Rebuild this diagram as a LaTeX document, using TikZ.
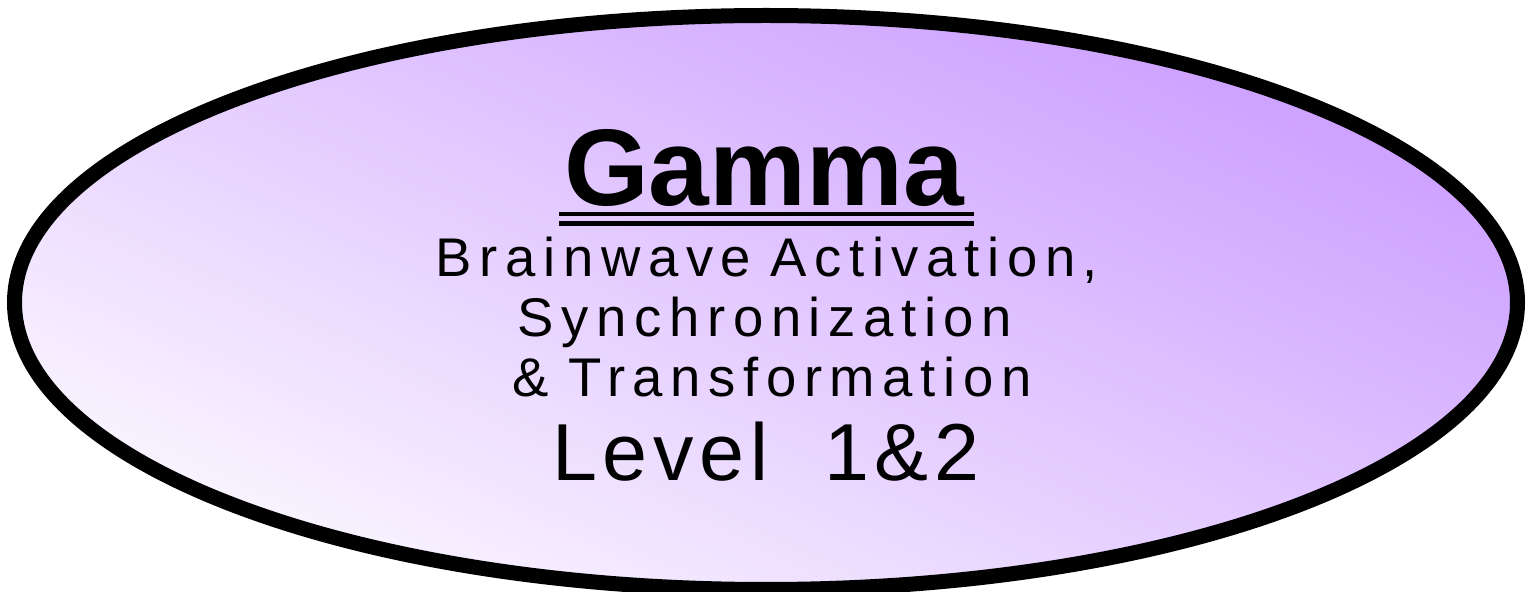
\documentclass[tikz,border=0pt]{standalone}
\usepackage{fontspec}
\setmainfont{Liberation Sans}
\newfontfamily\wavefont[LetterSpace=14, WordSpace=0.85]{Liberation Sans}
\newfontfamily\levelfont[LetterSpace=7, WordSpace=2.0]{Liberation Sans}
\usepackage{tikz}
\usetikzlibrary{shapes.geometric, calc, positioning}
\definecolor{gammapurple}{RGB}{204,158,255}
\definecolor{gammawhite}{RGB}{250,246,255}
\tikzstyle{oval} = [ellipse, line width=0.15cm, draw=black, minimum width=15.03cm, minimum height=5.74cm, top color=gammapurple, bottom color=gammawhite, shading angle=-25]
\tikzstyle{gammatitle} = [inner sep=0pt, anchor=base, font=\fontsize{31}{36}\selectfont\bfseries]
\tikzstyle{subtitle} = [inner sep=0pt, anchor=base, font=\wavefont\fontsize{15.5}{18}\selectfont]
\tikzstyle{levelline} = [inner sep=0pt, anchor=base, font=\levelfont\fontsize{23}{27}\selectfont]
\tikzstyle{underrule} = [line width=0.045cm]
\begin{document}
\begin{tikzpicture}
		\useasboundingbox (0,0) rectangle (15.26,-5.92);
		\node (Oval) [oval] at (7.66,-3.025) {};
		\node (Gamma) [gammatitle] at (7.64,-2.06) {Gamma};
		\node (Brainwave) [subtitle] at (7.67,-2.77) {Brainwave Activation,};
		\node (Sync) [subtitle] at (7.65,-3.37) {Synchronization};
		\node (Trans) [subtitle] at (7.72,-3.96) {\& Transformation};
		\node (Level) [levelline] at (7.66,-4.80) {Level 1\&2};

		\draw [underrule] ($(Gamma.base west)+(-0.04,-0.08)$) -- ($(Gamma.base east)+(0.09,-0.08)$);
		\draw [underrule] ($(Gamma.base west)+(-0.04,-0.175)$) -- ($(Gamma.base east)+(0.09,-0.175)$);
\end{tikzpicture}
\end{document}
